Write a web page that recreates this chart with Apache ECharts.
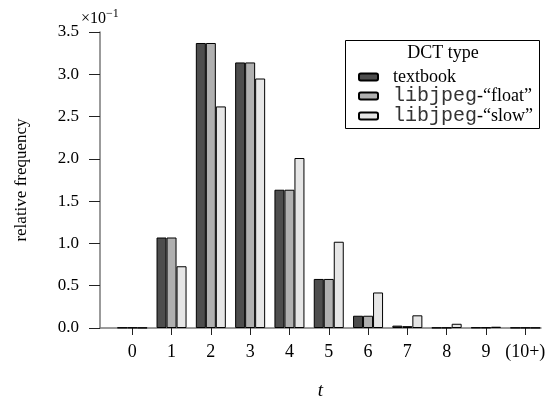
<!DOCTYPE html>
<html>
<head>
<meta charset="utf-8">
<script src="https://cdn.jsdelivr.net/npm/echarts@6/dist/echarts.min.js"></script>
<style>
  html, body { margin: 0; padding: 0; background: #fff; }
  #chart { width: 552px; height: 402px; }
</style>
</head>
<body>
<div id="chart"></div>
<script>
// values are in units of 10^-1
const categories = [0, 1, 2, 3, 4, 5, 6, 7, 8, 9, 10];
const tickLabels = ['0', '1', '2', '3', '4', '5', '6', '7', '8', '9', '(10+)'];
const textbook = [0.005, 1.07, 3.37, 3.14, 1.635, 0.58, 0.145, 0.028, 0.004, 0.006, 0.004];
const floatDct = [0.005, 1.07, 3.37, 3.14, 1.635, 0.58, 0.145, 0.022, 0.004, 0.006, 0.004];
const slowDct  = [0.003, 0.73, 2.62, 2.95, 2.01, 1.02, 0.42, 0.15, 0.05, 0.015, 0.003];
const seriesNames = ['textbook', 'libjpeg-\u201cfloat\u201d', 'libjpeg-\u201cslow\u201d'];

const serif = 'Liberation Serif';
const mono = 'Liberation Mono';
const colors = ['#4d4d4d', '#b0b0b0', '#e6e6e6'];

function pairs(vals) {
  return categories.map((c, i) => [c, vals[i]]);
}

function barSeries(name, vals, color) {
  return {
    name: name,
    type: 'bar',
    data: pairs(vals),
    barWidth: 10,
    barGap: '0%',
    itemStyle: { color: color, borderColor: '#000', borderWidth: 1 },
    emphasis: { disabled: true },
    animation: false
  };
}

const chart = echarts.init(document.getElementById('chart'));
chart.setOption({
  backgroundColor: '#fff',
  animation: false,
  grid: { left: 100, right: 11, top: 32, bottom: 74, containLabel: false, outerBoundsMode: 'none' },
  xAxis: {
    type: 'value',
    min: -0.82,
    max: 10.4,
    name: 't',
    nameLocation: 'middle',
    nameGap: 53,
    nameTextStyle: { fontFamily: serif, fontStyle: 'italic', fontSize: 19, color: '#000' },
    axisLine: { show: true, onZero: false, lineStyle: { color: '#7a7a7a', width: 1.5 } },
    axisTick: { show: true, customValues: categories, length: 7, inside: false, lineStyle: { color: '#222' } },
    axisLabel: {
      customValues: categories,
      formatter: v => tickLabels[categories.indexOf(v)],
      fontFamily: serif, fontSize: 18, color: '#000', margin: 15
    },
    splitLine: { show: false }
  },
  yAxis: {
    type: 'value',
    min: 0,
    max: 3.5,
    interval: 0.5,
    name: 'relative frequency',
    nameLocation: 'middle',
    nameGap: 70,
    nameTextStyle: { fontFamily: serif, fontSize: 17, color: '#000' },
    axisLine: { show: true, onZero: false, lineStyle: { color: '#7a7a7a', width: 1.5 } },
    axisTick: { show: true, length: 11, lineStyle: { color: '#222' } },
    axisLabel: {
      formatter: v => v.toFixed(1),
      fontFamily: serif, fontSize: 17, color: '#000', margin: 21
    },
    splitLine: { show: false }
  },
  legend: {
    orient: 'vertical',
    left: 358,
    top: 68,
    itemWidth: 19,
    itemHeight: 7,
    itemGap: 0,
    padding: 0,
    selectedMode: false,
    data: seriesNames,
    formatter: function (name) {
      if (name.indexOf('libjpeg') === 0) {
        return '{m|libjpeg}{s|' + name.slice(7) + '}';
      }
      return '{s|' + name + '}';
    },
    textStyle: {
      color: '#000',
      padding: [0, 0, 0, 10],
      rich: {
        m: { fontFamily: mono, fontSize: 20, color: '#333', lineHeight: 20 },
        s: { fontFamily: serif, fontSize: 18, color: '#000', lineHeight: 20 }
      }
    }
  },
  graphic: [
    {
      type: 'rect',
      shape: { x: 345.5, y: 40.5, width: 194, height: 88 },
      style: { fill: 'none', stroke: '#000', lineWidth: 1 },
      z: 10
    },
    {
      type: 'text',
      x: 443, y: 53,
      style: { text: 'DCT type', fontFamily: serif, fontSize: 18, fill: '#000', align: 'center', verticalAlign: 'middle' },
      z: 10
    },
    {
      type: 'text',
      x: 81, y: 19,
      style: {
        text: '\u00d710{sup|\u22121}',
        fontFamily: serif, fontSize: 16, fill: '#000', verticalAlign: 'middle',
        rich: { sup: { fontFamily: serif, fontSize: 12, padding: [0, 0, 10, 0] } }
      },
      z: 10
    }
  ],
  series: [
    barSeries(seriesNames[0], textbook, colors[0]),
    barSeries(seriesNames[1], floatDct, colors[1]),
    barSeries(seriesNames[2], slowDct, colors[2])
  ]
});
</script>
</body>
</html>
